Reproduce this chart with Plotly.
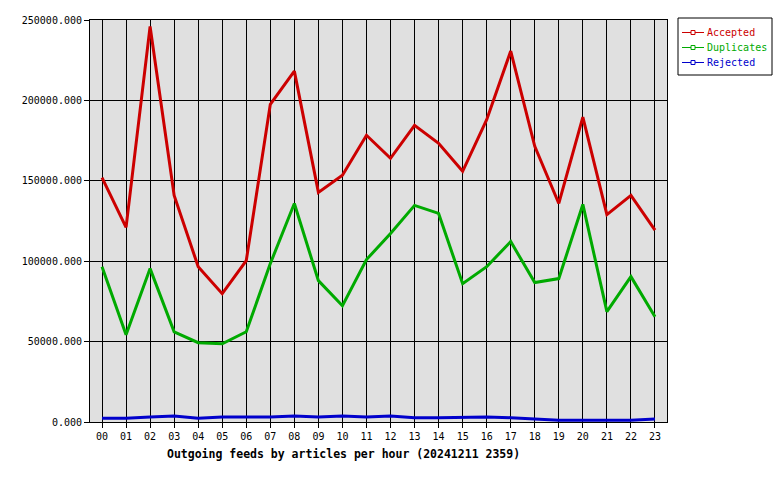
import plotly.graph_objects as go

hours = ["%02d" % h for h in range(24)]
accepted = [152000, 121000, 246000, 140900, 96600, 79800, 100400, 197600, 218200, 142800,
            153400, 178300, 164000, 184500, 173300, 155900, 188000, 230700, 171400, 135900,
            189600, 129000, 140900, 119300]
duplicates = [96600, 54200, 95400, 56100, 49300, 48600, 56100, 98500, 135900, 87900,
              72300, 101000, 117200, 134700, 129700, 86000, 96600, 112200, 86700, 89200,
              135300, 68600, 90400, 65500]
rejected = [2300, 2300, 3100, 3700, 2300, 3100, 3100, 3100, 3700, 3100,
            3700, 3100, 3700, 2700, 2700, 3100, 3100, 2700, 1900, 1100,
            1100, 1100, 1100, 1900]
series_names = ["Accepted", "Duplicates", "Rejected"]
colors = ["#cc0000", "#00aa00", "#0000cc"]
title = "Outgoing feeds by articles per hour (20241211 2359)"

FONT = "DejaVu Sans Mono"
# plot area in pixels: x 90..667, y 20..422
PL, PR, PT, PB = 90, 667, 20, 422
def px(x):
    return (x - PL) / (PR - PL)
def py(y):
    return (PB - y) / (PB - PT)

xs = list(range(len(hours)))
fig = go.Figure()
for name, vals, c in zip(series_names, [accepted, duplicates, rejected], colors):
    fig.add_trace(go.Scatter(x=xs, y=vals, mode="lines", name=name, line=dict(color=c, width=3),
                             showlegend=False, hoverinfo="skip"))

# manual legend box
shapes = [dict(type="rect", xref="paper", yref="paper", x0=px(678), x1=px(772), y0=py(75), y1=py(18),
               line=dict(color="black", width=1), fillcolor="white", layer="above")]
annotations = []
for i, (name, c) in enumerate(zip(series_names, colors)):
    ry = 32.5 + 15 * i
    shapes.append(dict(type="line", xref="paper", yref="paper", x0=px(682), x1=px(704), y0=py(ry), y1=py(ry),
                       line=dict(color=c, width=1), layer="above"))
    shapes.append(dict(type="rect", xref="paper", yref="paper", x0=px(691), x1=px(695), y0=py(ry + 2), y1=py(ry - 2),
                       line=dict(color=c, width=1), fillcolor="white", layer="above"))
    annotations.append(dict(text=name, x=px(705), y=py(ry), xref="paper", yref="paper", showarrow=False,
                            xanchor="left", yanchor="middle", font=dict(family=FONT, size=10, color=c)))

annotations.append(dict(text="<b>" + title + "</b>", x=px(343), xref="paper", y=py(445), yref="paper",
                        showarrow=False, font=dict(family=FONT, size=11.5), xanchor="center", yanchor="top"))

fig.update_layout(
    width=780, height=480,
    margin=dict(l=PL, r=780 - PR, t=PT, b=480 - PB, autoexpand=False),
    paper_bgcolor="white", plot_bgcolor="#e0e0e0",
    font=dict(family=FONT, size=10, color="black"),
    showlegend=False,
    shapes=shapes,
    annotations=annotations,
)
fig.update_xaxes(range=[-0.5, 23.5], tickmode="array", tickvals=xs, ticktext=hours,
                 showgrid=True, gridcolor="black", gridwidth=1, zeroline=False,
                 showline=True, linecolor="black", linewidth=1, mirror=True,
                 ticks="outside", ticklen=5, tickcolor="black",
                 tickfont=dict(family=FONT, size=10))
fig.update_yaxes(range=[0, 250000], tickmode="array", tickvals=[0, 50000, 100000, 150000, 200000, 250000],
                 tickformat=".3f",
                 showgrid=True, gridcolor="black", gridwidth=1, zeroline=False,
                 showline=True, linecolor="black", linewidth=1, mirror=True,
                 ticks="outside", ticklen=5, tickcolor="black",
                 tickfont=dict(family=FONT, size=10))
fig.write_html("out.html")
